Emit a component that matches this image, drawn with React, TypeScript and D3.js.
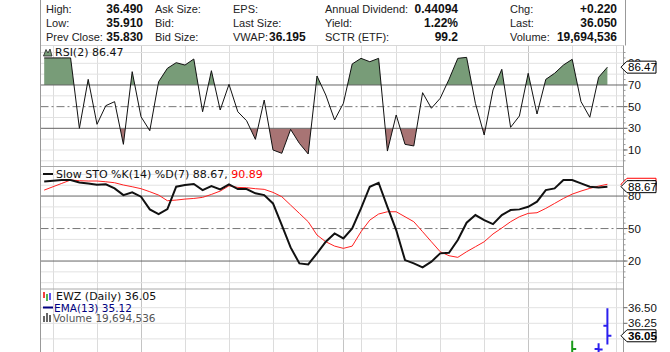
import React from 'react';
import * as d3 from 'd3';

// quote header
const quoteLabelsA = ['High:', 'Low:', 'Prev Close:'];
const quoteValuesA = ['36.490', '35.910', '35.830'];
const quoteLabelsB = ['Ask Size:', 'Bid:', 'Bid Size:'];
const quoteLabelsC = ['EPS:', 'Last Size:', 'VWAP:'];
const quoteValuesC = ['', '', '36.195'];
const quoteLabelsD = ['Annual Dividend:', 'Yield:', 'SCTR (ETF):'];
const quoteValuesD = ['0.44094', '1.22%', '99.2'];
const quoteLabelsE = ['Chg:', 'Last:', 'Volume:'];
const quoteValuesE = ['+0.220', '36.050', '19,694,536'];

// daily series (trading day index 0..64)
const rsi = [95, 95, 95, 95, 30, 75.2, 33.7, 50.9, 54.6, 15.2, 82.3, 40.7, 27.8, 73, 85.4, 90.6, 88.4, 94, 45.3, 83.2,
  46.9, 70.6, 45.3, 37, 19.8, 56.1, 10, 6.9, 29, 16.1, 6.3, 78.3, 60.7, 37.7, 53.1, 89.4, 94.6, 91.5, 94.6, 9,
  42.3, 15.2, 13.7, 62.9, 48.5, 57.7, 75.2, 94.6, 95.5, 53.1, 23.8, 65.4, 84.5, 30.9, 41.4, 80.8, 43.2, 75.2, 80.8, 88.4,
  93.7, 54.6, 40.2, 77.1, 86.47];
const stoK = [93.5, 94.2, 94.8, 94.8, 92.6, 91.7, 90.5, 90.8, 87.1, 80.9, 83.4, 79.4, 67.7, 63.4, 68, 88.6, 90.2, 91.1, 85.5, 89.2,
  86.2, 90.8, 86.5, 86.5, 82.5, 80.9, 73.2, 53.2, 32.6, 17.8, 16.9, 27.1, 37.8, 45.5, 40.9, 50.1, 68.6, 88.6, 92.3, 70.1,
  48.6, 20.9, 17.8, 14.1, 19.4, 27.1, 27.7, 39.4, 55.4, 62.5, 57.8, 54.1, 62.5, 67.1, 67.7, 70.1, 74.8, 85.5, 87.1, 94.8,
  94.8, 91.7, 88.6, 88, 88.67];
const stoD = [85.5, 88.6, 91.7, 94.8, 94.2, 93.9, 93.9, 93.2, 92.3, 90.2, 88.6, 86.8, 84, 80.9, 75.7, 76.3, 77.2, 77.8, 78.8, 81.5,
  84.6, 89.5, 88, 87.7, 86.8, 86.2, 83.4, 79.4, 71.7, 64, 56.3, 44, 37.8, 33.8, 31.7, 33.8, 47.1, 57.8, 63.4, 65.5,
  65.5, 60.9, 56.3, 47.1, 37.8, 28.6, 24.9, 23.4, 28.6, 33.2, 37.8, 45, 50.5, 56.3, 60.9, 64, 64.6, 68.6, 73.2, 77.8,
  81.8, 84.6, 87.1, 89.2, 90.89];

// price bars visible in the bottom panel
const barIdx = [60, 63, 64];
const barOpen = [35.7, 35.84, 36.21];
const barHigh = [35.97, 35.93, 36.49];
const barLow = [35.66, 35.6, 35.91];
const barClose = [35.84, 35.83, 36.05];

// grid days
const weekIdx = [1, 6, 11, 16, 21, 26, 31, 36, 40, 45, 50, 55, 60, 65];
const monthIdx = [11, 34, 55];

const rsiLabels = [10, 30, 50, 70, 90];
const stoLabels = [20, 50, 80];
const priceGrid = [36, 36.25, 36.5];
const priceLabels = [36.25, 36.5];

const FONT = 'DejaVu Sans, Verdana, sans-serif';
const HFONT = 'Liberation Sans, Arial, sans-serif';
const L = 40.5, R = 623.5;
const rsiTop = 45.5, rsiBot = 166.5, stoBot = 289, priceBot = 352;

function Tag({ y, text, stroke, bold }: { y: number; text: string; stroke: string; bold?: boolean }) {
  const pts = [[621, y], [627, y - 6], [656, y - 6], [656, y + 6], [627, y + 6]].map(p => p.join(',')).join(' ');
  return (
    <g>
      <polygon points={pts} fill="#fff" stroke={stroke} strokeWidth={1} />
      <text x={628} y={y + 4} fontSize={11.5} fontFamily={HFONT} fontWeight={bold ? 'bold' : 'normal'} fill="#000">{text}</text>
    </g>
  );
}

export default function App() {
  const x = d3.scaleLinear().domain([0, 64]).range([44.2, 607.4]);
  const yR = d3.scaleLinear().domain([0, 100]).range([160.8, 52.5]);
  const yS = d3.scaleLinear().domain([0, 100]).range([282.7, 174.4]);
  const yP = d3.scaleLinear().domain([36, 36.5]).range([338.9, 307.7]);

  const rsiLine = d3.line<number>().x((d, i) => x(i)).y(d => yR(d));
  const greenArea = d3.area<number>().x((d, i) => x(i)).y0(yR(70)).y1(d => yR(d));
  const redArea = d3.area<number>().x((d, i) => x(i)).y0(yR(30)).y1(d => yR(d));
  const stoLine = d3.line<number>().x((d, i) => x(i)).y(d => yS(d));

  const cols = [
    { lx: 46, labels: quoteLabelsA, vx: 143, anchor: 'end', values: quoteValuesA },
    { lx: 155, labels: quoteLabelsB, vx: 0, anchor: 'end', values: [] as string[] },
    { lx: 233, labels: quoteLabelsC, vx: 269, anchor: 'start', values: quoteValuesC },
    { lx: 325, labels: quoteLabelsD, vx: 458, anchor: 'end', values: quoteValuesD },
    { lx: 510, labels: quoteLabelsE, vx: 617, anchor: 'end', values: quoteValuesE },
  ];
  const rowY = [13, 27, 41];

  const lightR = d3.range(0, 101, 10).filter(v => ![30, 50, 70].includes(v));
  const lightS = d3.range(0, 101, 10).filter(v => ![20, 50, 80].includes(v));
  const barColor = (i: number) => (barClose[i] >= barOpen[i] ? '#1a9a1a' : '#2b1fee');

  return (
    <div style={{ position: 'fixed', left: 0, top: 0 }}>
      <svg width={670} height={352} style={{ display: 'block', background: '#fff' }}>
        <defs>
          <clipPath id="rsiClip"><rect x={L} y={rsiTop} width={R - L} height={rsiBot - rsiTop} /></clipPath>
          <clipPath id="greenClip"><rect x={L} y={rsiTop} width={R - L} height={yR(70) - rsiTop} /></clipPath>
          <clipPath id="redClip"><rect x={L} y={yR(30)} width={R - L} height={rsiBot - yR(30)} /></clipPath>
          <clipPath id="stoClip"><rect x={L} y={rsiBot} width={R - L} height={stoBot - rsiBot} /></clipPath>
          <clipPath id="priceClip"><rect x={L} y={stoBot} width={R - L} height={priceBot - stoBot} /></clipPath>
        </defs>

        {/* header */}
        {cols.map((c, ci) => (
          <g key={ci}>
            {c.labels.map((t, ri) => (
              <text key={ri} x={c.lx} y={rowY[ri]} fontSize={11} fontFamily={HFONT} fill="#222">{t}</text>
            ))}
            {c.values.map((t, ri) => (
              <text key={'v' + ri} x={c.vx} y={rowY[ri]} textAnchor={c.anchor} fontSize={12} fontWeight="bold" fontFamily={HFONT} fill="#111">{t}</text>
            ))}
          </g>
        ))}
        <line x1={625.5} x2={625.5} y1={0} y2={rsiTop} stroke="#999" />

        {/* vertical grid */}
        {weekIdx.map(d => (
          <line key={'w' + d} x1={Math.round(x(d)) + 0.5} x2={Math.round(x(d)) + 0.5} y1={rsiTop} y2={priceBot} stroke="#dcdcdc" />
        ))}
        {monthIdx.map(d => (
          <line key={'m' + d} x1={Math.round(x(d)) + 0.5} x2={Math.round(x(d)) + 0.5} y1={rsiTop} y2={priceBot} stroke="#c4c4c4" />
        ))}

        {/* RSI panel */}
        {lightR.map(v => (
          <line key={'rl' + v} x1={L} x2={R} y1={yR(v)} y2={yR(v)} stroke="#e2e2e2" />
        ))}
        <line x1={L} x2={R} y1={rsiTop} y2={rsiTop} stroke="#d8d8d8" />
        <path d={greenArea(rsi) || ''} fill="#789c78" clipPath="url(#greenClip)" />
        <path d={redArea(rsi) || ''} fill="#a87474" clipPath="url(#redClip)" />
        <line x1={L} x2={R} y1={yR(70)} y2={yR(70)} stroke="#666" />
        <line x1={L} x2={R} y1={yR(30)} y2={yR(30)} stroke="#666" />
        <line x1={L} x2={R} y1={yR(50)} y2={yR(50)} stroke="#777" strokeDasharray="8,3,2,3" />
        <path d={rsiLine(rsi) || ''} fill="none" stroke="#111" strokeWidth={1} clipPath="url(#rsiClip)" />
        <path d="M43.5,56 L46,49.5 L48,53 L50,49 L52,56 Z" fill="#789c78" stroke="#222" strokeWidth={0.8} />
        <text x={55} y={56} fontSize={11} fontFamily={FONT} fill="#111">RSI(2) 86.47</text>

        {/* STO panel */}
        <line x1={L} x2={R} y1={rsiBot} y2={rsiBot} stroke="#aaa" />
        {lightS.map(v => (
          <line key={'sl' + v} x1={L} x2={R} y1={yS(v)} y2={yS(v)} stroke="#e2e2e2" />
        ))}
        <line x1={L} x2={R} y1={yS(80)} y2={yS(80)} stroke="#666" />
        <line x1={L} x2={R} y1={yS(20)} y2={yS(20)} stroke="#666" />
        <line x1={L} x2={R} y1={yS(50)} y2={yS(50)} stroke="#777" strokeDasharray="8,3,2,3" />
        <g clipPath="url(#stoClip)">
          <path d={stoLine(stoD) || ''} fill="none" stroke="#ff2020" strokeWidth={1} />
          <path d={stoLine(stoK) || ''} fill="none" stroke="#111" strokeWidth={2} />
        </g>
        <line x1={43} x2={53} y1={174} y2={174} stroke="#111" strokeWidth={2} />
        <text x={56} y={178} fontSize={11} fontFamily={FONT} fill="#111">
          Slow STO %K(14) %D(7) 88.67, <tspan fill="#ff0000">90.89</tspan>
        </text>

        {/* price panel */}
        <line x1={L} x2={R} y1={stoBot} y2={stoBot} stroke="#aaa" />
        {priceGrid.map(v => (
          <line key={'pl' + v} x1={L} x2={R} y1={yP(v)} y2={yP(v)} stroke="#e2e2e2" />
        ))}
        <g clipPath="url(#priceClip)">
          {barIdx.map((d, i) => (
            <g key={'b' + d} stroke={barColor(i)} strokeWidth={2}>
              <line x1={x(d)} x2={x(d)} y1={yP(barHigh[i])} y2={yP(barLow[i])} />
              <line x1={x(d) - 4} x2={x(d)} y1={yP(barOpen[i])} y2={yP(barOpen[i])} />
              <line x1={x(d)} x2={x(d) + 4} y1={yP(barClose[i])} y2={yP(barClose[i])} />
            </g>
          ))}
        </g>
        <g strokeWidth={1.5}>
          <line x1={44} x2={44} y1={292} y2={298} stroke="#e00" />
          <line x1={47} x2={47} y1={294} y2={301} stroke="#1a9a1a" />
          <line x1={50} x2={50} y1={293} y2={300} stroke="#2b1fee" />
        </g>
        <text x={56} y={300} fontSize={11} fontFamily={FONT} fill="#111">EWZ (Daily) 36.05</text>
        <line x1={43} x2={53} y1={307.5} y2={307.5} stroke="#000080" strokeWidth={2} />
        <text x={54} y={311.5} fontSize={10.5} fontFamily={FONT} fill="#000080">EMA(13) 35.12</text>
        <g fill="#666">
          <rect x={43} y={316} width={2} height={6} />
          <rect x={46} y={313} width={2} height={9} />
          <rect x={49} y={315} width={2} height={7} />
        </g>
        <text x={53} y={322} fontSize={10.5} fontFamily={FONT} fill="#555">Volume 19,694,536</text>

        {/* frame */}
        <line x1={L} x2={L} y1={0} y2={priceBot} stroke="#999" />
        <line x1={R} x2={R} y1={rsiTop} y2={priceBot} stroke="#999" />

        {/* right axis ticks */}
        {d3.range(0, 101, 5).map(v => (
          <line key={'rt' + v} x1={R} x2={R + 2} y1={yR(v)} y2={yR(v)} stroke="#999" />
        ))}
        {d3.range(5, 101, 5).map(v => (
          <line key={'st' + v} x1={R} x2={R + 2} y1={yS(v)} y2={yS(v)} stroke="#999" />
        ))}
        {rsiLabels.map(v => (
          <g key={'rlab' + v}>
            <line x1={R} x2={R + 4} y1={yR(v)} y2={yR(v)} stroke="#666" />
            <text x={628} y={yR(v) + 4} fontSize={11.5} fontFamily={HFONT} fill="#111">{v}</text>
          </g>
        ))}
        {stoLabels.map(v => (
          <g key={'slab' + v}>
            <line x1={R} x2={R + 4} y1={yS(v)} y2={yS(v)} stroke="#666" />
            <text x={628} y={yS(v) + 4} fontSize={11.5} fontFamily={HFONT} fill="#111">{v}</text>
          </g>
        ))}
        {priceGrid.map(v => (
          <line key={'ptk' + v} x1={R} x2={R + 4} y1={yP(v)} y2={yP(v)} stroke="#666" />
        ))}
        {priceLabels.map(v => (
          <text key={'plab' + v} x={628} y={yP(v) + 4} fontSize={11.5} fontFamily={HFONT} fill="#111">{v.toFixed(2)}</text>
        ))}

        {/* last value tags */}
        <Tag y={yR(rsi[64])} text={rsi[64].toFixed(2)} stroke="#000" />
        <Tag y={yS(stoD[64])} text={stoD[64].toFixed(2)} stroke="#ff0000" />
        <Tag y={yS(stoK[64])} text={stoK[64].toFixed(2)} stroke="#000" />
        <Tag y={yP(barClose[2])} text={barClose[2].toFixed(2)} stroke="#000" bold />
      </svg>
    </div>
  );
}
